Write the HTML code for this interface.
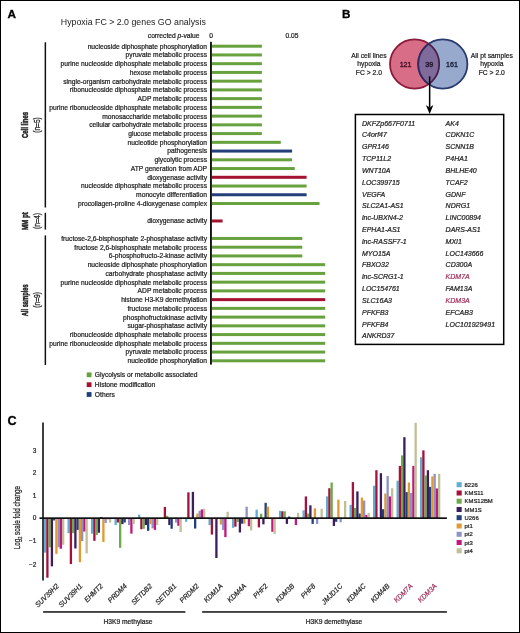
<!DOCTYPE html>
<html><head><meta charset="utf-8"><style>
html,body{margin:0;padding:0;background:#fff;}
body{width:520px;height:633px;overflow:hidden;position:relative;}
svg{position:absolute;left:0;top:0;font-family:"Liberation Sans", sans-serif;filter:blur(0.35px);}
.frame{position:absolute;left:0;top:0;width:520px;height:633px;box-sizing:border-box;border-style:solid;border-color:#000;border-width:1.2px 1.6px 1.6px 1.6px;}
</style></head><body>
<svg width="520" height="633" viewBox="0 0 520 633">
<text x="7.5" y="18.45" font-size="11.6" text-anchor="start" fill="#000" class="pl" font-weight="bold" stroke="#000" stroke-width="0.3" textLength="8.5" lengthAdjust="spacingAndGlyphs">A</text>
<text x="60.8" y="24.5" font-size="9.3" text-anchor="start" fill="#222"  textLength="145" lengthAdjust="spacingAndGlyphs">Hypoxia FC &gt; 2.0 genes GO analysis</text>
<text x="199.5" y="37.8" font-size="6.7" text-anchor="end" fill="#222" stroke="#222" stroke-width="0.22" >corrected <tspan font-style="italic">p</tspan>-value</text>
<text x="211" y="37.8" font-size="6.7" text-anchor="middle" fill="#222" stroke="#222" stroke-width="0.22" >0</text>
<text x="292" y="37.8" font-size="6.7" text-anchor="middle" fill="#222" stroke="#222" stroke-width="0.22" >0.05</text>
<text x="207" y="48.6" font-size="6.7" text-anchor="end" fill="#222" stroke="#222" stroke-width="0.22" class="al">nucleoside diphosphate phosphorylation</text>
<rect x="212" y="44.70" width="49.9" height="3.0" fill="#67a23f"/>
<text x="207" y="57.34" font-size="6.7" text-anchor="end" fill="#222" stroke="#222" stroke-width="0.22" class="al">pyruvate metabolic process</text>
<rect x="212" y="53.44" width="49.9" height="3.0" fill="#67a23f"/>
<text x="207" y="66.08" font-size="6.7" text-anchor="end" fill="#222" stroke="#222" stroke-width="0.22" class="al">purine nucleoside diphosphate metabolic process</text>
<rect x="212" y="62.18" width="49.9" height="3.0" fill="#67a23f"/>
<text x="207" y="74.82" font-size="6.7" text-anchor="end" fill="#222" stroke="#222" stroke-width="0.22" class="al">hexose metabolic process</text>
<rect x="212" y="70.92" width="49.9" height="3.0" fill="#67a23f"/>
<text x="207" y="83.56" font-size="6.7" text-anchor="end" fill="#222" stroke="#222" stroke-width="0.22" class="al">single-organism carbohydrate metabolic process</text>
<rect x="212" y="79.66" width="49.9" height="3.0" fill="#67a23f"/>
<text x="207" y="92.3" font-size="6.7" text-anchor="end" fill="#222" stroke="#222" stroke-width="0.22" class="al">ribonucleoside diphosphate metabolic process</text>
<rect x="212" y="88.40" width="49.9" height="3.0" fill="#67a23f"/>
<text x="207" y="101.03" font-size="6.7" text-anchor="end" fill="#222" stroke="#222" stroke-width="0.22" class="al">ADP metabolic process</text>
<rect x="212" y="97.13" width="49.9" height="3.0" fill="#67a23f"/>
<text x="207" y="109.77" font-size="6.7" text-anchor="end" fill="#222" stroke="#222" stroke-width="0.22" class="al">purine ribonucleoside diphosphate metabolic process</text>
<rect x="212" y="105.87" width="49.9" height="3.0" fill="#67a23f"/>
<text x="207" y="118.51" font-size="6.7" text-anchor="end" fill="#222" stroke="#222" stroke-width="0.22" class="al">monosaccharide metabolic process</text>
<rect x="212" y="114.61" width="49.9" height="3.0" fill="#67a23f"/>
<text x="207" y="127.25" font-size="6.7" text-anchor="end" fill="#222" stroke="#222" stroke-width="0.22" class="al">cellular carbohydrate metabolic process</text>
<rect x="212" y="123.35" width="49.9" height="3.0" fill="#67a23f"/>
<text x="207" y="135.99" font-size="6.7" text-anchor="end" fill="#222" stroke="#222" stroke-width="0.22" class="al">glucose metabolic process</text>
<rect x="212" y="132.09" width="49.9" height="3.0" fill="#67a23f"/>
<text x="207" y="144.73" font-size="6.7" text-anchor="end" fill="#222" stroke="#222" stroke-width="0.22" class="al">nucleotide phosphorylation</text>
<rect x="212" y="140.83" width="68.8" height="3.0" fill="#67a23f"/>
<text x="207" y="153.47" font-size="6.7" text-anchor="end" fill="#222" stroke="#222" stroke-width="0.22" class="al">pathogenesis</text>
<rect x="212" y="149.57" width="80.1" height="3.0" fill="#223f7a"/>
<text x="207" y="162.21" font-size="6.7" text-anchor="end" fill="#222" stroke="#222" stroke-width="0.22" class="al">glycolytic process</text>
<rect x="212" y="158.31" width="80.0" height="3.0" fill="#67a23f"/>
<text x="207" y="170.95" font-size="6.7" text-anchor="end" fill="#222" stroke="#222" stroke-width="0.22" class="al">ATP generation from ADP</text>
<rect x="212" y="167.05" width="82.8" height="3.0" fill="#67a23f"/>
<text x="207" y="179.69" font-size="6.7" text-anchor="end" fill="#222" stroke="#222" stroke-width="0.22" class="al">dioxygenase activity</text>
<rect x="212" y="175.79" width="94.6" height="3.0" fill="#a3122f"/>
<text x="207" y="188.42" font-size="6.7" text-anchor="end" fill="#222" stroke="#222" stroke-width="0.22" class="al">nucleoside diphosphate metabolic process</text>
<rect x="212" y="184.52" width="94.6" height="3.0" fill="#67a23f"/>
<text x="207" y="197.16" font-size="6.7" text-anchor="end" fill="#222" stroke="#222" stroke-width="0.22" class="al">monocyte differentiation</text>
<rect x="212" y="193.26" width="94.6" height="3.0" fill="#223f7a"/>
<text x="207" y="205.9" font-size="6.7" text-anchor="end" fill="#222" stroke="#222" stroke-width="0.22" class="al">procollagen-proline 4-dioxygenase complex</text>
<rect x="212" y="202.00" width="107.5" height="3.0" fill="#67a23f"/>
<text x="207" y="223.38" font-size="6.7" text-anchor="end" fill="#222" stroke="#222" stroke-width="0.22" class="al">dioxygenase activity</text>
<rect x="212" y="219.48" width="10.6" height="3.0" fill="#a3122f"/>
<text x="207" y="240.86" font-size="6.7" text-anchor="end" fill="#222" stroke="#222" stroke-width="0.22" class="al">fructose-2,6-bisphosphate 2-phosphatase activity</text>
<rect x="212" y="236.96" width="90.3" height="3.0" fill="#67a23f"/>
<text x="207" y="249.6" font-size="6.7" text-anchor="end" fill="#222" stroke="#222" stroke-width="0.22" class="al">fructose 2,6-bisphosphate metabolic process</text>
<rect x="212" y="245.70" width="90.3" height="3.0" fill="#67a23f"/>
<text x="207" y="258.34" font-size="6.7" text-anchor="end" fill="#222" stroke="#222" stroke-width="0.22" class="al">6-phosphofructo-2-kinase activity</text>
<rect x="212" y="254.44" width="90.3" height="3.0" fill="#67a23f"/>
<text x="207" y="267.07" font-size="6.7" text-anchor="end" fill="#222" stroke="#222" stroke-width="0.22" class="al">nucleoside diphosphate phosphorylation</text>
<rect x="212" y="263.18" width="113.2" height="3.0" fill="#67a23f"/>
<text x="207" y="275.81" font-size="6.7" text-anchor="end" fill="#222" stroke="#222" stroke-width="0.22" class="al">carbohydrate phosphatase activity</text>
<rect x="212" y="271.91" width="113.2" height="3.0" fill="#67a23f"/>
<text x="207" y="284.55" font-size="6.7" text-anchor="end" fill="#222" stroke="#222" stroke-width="0.22" class="al">purine nucleoside diphosphate metabolic process</text>
<rect x="212" y="280.65" width="113.2" height="3.0" fill="#67a23f"/>
<text x="207" y="293.29" font-size="6.7" text-anchor="end" fill="#222" stroke="#222" stroke-width="0.22" class="al">ADP metabolic process</text>
<rect x="212" y="289.39" width="113.2" height="3.0" fill="#67a23f"/>
<text x="207" y="302.03" font-size="6.7" text-anchor="end" fill="#222" stroke="#222" stroke-width="0.22" class="al">histone H3-K9 demethylation</text>
<rect x="212" y="298.13" width="113.2" height="3.0" fill="#a3122f"/>
<text x="207" y="310.77" font-size="6.7" text-anchor="end" fill="#222" stroke="#222" stroke-width="0.22" class="al">fructose metabolic process</text>
<rect x="212" y="306.87" width="113.2" height="3.0" fill="#67a23f"/>
<text x="207" y="319.51" font-size="6.7" text-anchor="end" fill="#222" stroke="#222" stroke-width="0.22" class="al">phosphofructokinase activity</text>
<rect x="212" y="315.61" width="113.2" height="3.0" fill="#67a23f"/>
<text x="207" y="328.25" font-size="6.7" text-anchor="end" fill="#222" stroke="#222" stroke-width="0.22" class="al">sugar-phosphatase activity</text>
<rect x="212" y="324.35" width="113.2" height="3.0" fill="#67a23f"/>
<text x="207" y="336.99" font-size="6.7" text-anchor="end" fill="#222" stroke="#222" stroke-width="0.22" class="al">ribonucleoside diphosphate metabolic process</text>
<rect x="212" y="333.09" width="113.2" height="3.0" fill="#67a23f"/>
<text x="207" y="345.73" font-size="6.7" text-anchor="end" fill="#222" stroke="#222" stroke-width="0.22" class="al">purine ribonucleoside diphosphate metabolic process</text>
<rect x="212" y="341.83" width="113.2" height="3.0" fill="#67a23f"/>
<text x="207" y="354.46" font-size="6.7" text-anchor="end" fill="#222" stroke="#222" stroke-width="0.22" class="al">pyruvate metabolic process</text>
<rect x="212" y="350.56" width="113.2" height="3.0" fill="#67a23f"/>
<text x="207" y="363.2" font-size="6.7" text-anchor="end" fill="#222" stroke="#222" stroke-width="0.22" class="al">nucleotide phosphorylation</text>
<rect x="212" y="359.30" width="113.2" height="3.0" fill="#67a23f"/>
<rect x="210" y="41.8" width="1.9" height="322.8" fill="#111"/>
<rect x="44.6" y="42.3" width="1.5" height="165.2" fill="#111"/>
<rect x="44.6" y="212.8" width="1.5" height="16.8" fill="#111"/>
<rect x="44.6" y="235.4" width="1.5" height="129.6" fill="#111"/>
<text class="rl" x="0" y="0" font-size="8.6" text-anchor="middle" fill="#222" font-weight="bold" stroke="#222" stroke-width="0.45" textLength="26" lengthAdjust="spacingAndGlyphs" transform="translate(28.3,125) rotate(-90)">Cell lines</text>
<text class="rl" x="0" y="0" font-size="9.2" text-anchor="middle" fill="#222" stroke="#222" stroke-width="0.3" textLength="15.4" lengthAdjust="spacingAndGlyphs" transform="translate(39.8,125) rotate(-90)">(n=5)</text>
<text class="rl" x="0" y="0" font-size="8.6" text-anchor="middle" fill="#222" font-weight="bold" stroke="#222" stroke-width="0.45" textLength="17.8" lengthAdjust="spacingAndGlyphs" transform="translate(28.3,221.2) rotate(-90)">MM pt</text>
<text class="rl" x="0" y="0" font-size="9.2" text-anchor="middle" fill="#222" stroke="#222" stroke-width="0.3" textLength="16.2" lengthAdjust="spacingAndGlyphs" transform="translate(39.8,221.0) rotate(-90)">(n=4)</text>
<text class="rl" x="0" y="0" font-size="8.6" text-anchor="middle" fill="#222" font-weight="bold" stroke="#222" stroke-width="0.45" textLength="32" lengthAdjust="spacingAndGlyphs" transform="translate(28.3,300.3) rotate(-90)">All samples</text>
<text class="rl" x="0" y="0" font-size="9.2" text-anchor="middle" fill="#222" stroke="#222" stroke-width="0.3" textLength="15.7" lengthAdjust="spacingAndGlyphs" transform="translate(39.8,299.9) rotate(-90)">(n=9)</text>
<rect x="86.7" y="372.4" width="4.8" height="4.8" fill="#67a23f"/>
<text x="94.8" y="377.3" font-size="6.72" text-anchor="start" fill="#222" stroke="#222" stroke-width="0.22" >Glycolysis or metabolic associated</text>
<rect x="86.7" y="382.3" width="4.8" height="4.8" fill="#a3122f"/>
<text x="94.8" y="387.2" font-size="6.72" text-anchor="start" fill="#222" stroke="#222" stroke-width="0.22" >Histone modification</text>
<rect x="86.7" y="392.1" width="4.8" height="4.8" fill="#223f7a"/>
<text x="94.8" y="397.0" font-size="6.72" text-anchor="start" fill="#222" stroke="#222" stroke-width="0.22" >Others</text>
<text x="342.1" y="18.05" font-size="11.7" text-anchor="start" fill="#000" class="pl" font-weight="bold" stroke="#000" stroke-width="0.3">B</text>
<g>
<circle cx="414.6" cy="64" r="24.6" fill="#d76d87" stroke="#8e1a3c" stroke-width="1.8"/>
<circle cx="442.8" cy="64" r="24.6" fill="#97a9cc" stroke="#2a3b70" stroke-width="1.8"/>
<clipPath id="cl"><circle cx="414.6" cy="64" r="24.6"/></clipPath>
<circle cx="442.8" cy="64" r="24.6" fill="#7f6a9c" stroke="#33285e" stroke-width="1.8" clip-path="url(#cl)"/>
<circle cx="414.6" cy="64" r="24.6" fill="none" stroke="#4a2048" stroke-width="1.8" clip-path="url(#cr)"/>
<clipPath id="cr"><circle cx="442.8" cy="64" r="24.6"/></clipPath>
</g>
<text x="405.6" y="66.6" font-size="7.1" text-anchor="middle" fill="#4a1426"  stroke="#4a1426" stroke-width="0.4">121</text>
<text x="429.2" y="66.6" font-size="7.1" text-anchor="middle" fill="#24162e"  stroke="#24162e" stroke-width="0.45">39</text>
<text x="452" y="66.6" font-size="7.1" text-anchor="middle" fill="#232a44"  stroke="#232a44" stroke-width="0.4">161</text>
<text x="368.9" y="57.5" font-size="6.75" text-anchor="middle" fill="#222" stroke="#222" stroke-width="0.22" >All cell lines</text>
<text x="368.9" y="66.1" font-size="6.75" text-anchor="middle" fill="#222" stroke="#222" stroke-width="0.22" >hypoxia</text>
<text x="368.9" y="74.7" font-size="6.75" text-anchor="middle" fill="#222" stroke="#222" stroke-width="0.22" >FC &gt; 2.0</text>
<text x="491.8" y="57.5" font-size="6.75" text-anchor="middle" fill="#222" stroke="#222" stroke-width="0.22" >All pt samples</text>
<text x="491.8" y="66.1" font-size="6.75" text-anchor="middle" fill="#222" stroke="#222" stroke-width="0.22" >hypoxia</text>
<text x="491.8" y="74.7" font-size="6.75" text-anchor="middle" fill="#222" stroke="#222" stroke-width="0.22" >FC &gt; 2.0</text>
<rect x="428.9" y="76.3" width="1.5" height="31" fill="#000"/>
<path d="M425.9 105 L429.65 114 L433.4 105 L429.65 107.5 Z" fill="#000"/>
<rect x="355.4" y="114.5" width="148.3" height="229.9" fill="none" stroke="#000" stroke-width="1.5"/>
<text x="362" y="125.6" font-size="7" text-anchor="start" fill="#222" stroke="#222" stroke-width="0.22" font-style="italic">DKFZp667F0711</text>
<text x="362" y="137.42" font-size="7" text-anchor="start" fill="#222" stroke="#222" stroke-width="0.22" font-style="italic">C4orf47</text>
<text x="362" y="149.24" font-size="7" text-anchor="start" fill="#222" stroke="#222" stroke-width="0.22" font-style="italic">GPR146</text>
<text x="362" y="161.06" font-size="7" text-anchor="start" fill="#222" stroke="#222" stroke-width="0.22" font-style="italic">TCP11L2</text>
<text x="362" y="172.88" font-size="7" text-anchor="start" fill="#222" stroke="#222" stroke-width="0.22" font-style="italic">WNT10A</text>
<text x="362" y="184.7" font-size="7" text-anchor="start" fill="#222" stroke="#222" stroke-width="0.22" font-style="italic">LOC399715</text>
<text x="362" y="196.52" font-size="7" text-anchor="start" fill="#222" stroke="#222" stroke-width="0.22" font-style="italic">VEGFA</text>
<text x="362" y="208.34" font-size="7" text-anchor="start" fill="#222" stroke="#222" stroke-width="0.22" font-style="italic">SLC2A1-AS1</text>
<text x="362" y="220.16" font-size="7" text-anchor="start" fill="#222" stroke="#222" stroke-width="0.22" font-style="italic">lnc-UBXN4-2</text>
<text x="362" y="231.98" font-size="7" text-anchor="start" fill="#222" stroke="#222" stroke-width="0.22" font-style="italic">EPHA1-AS1</text>
<text x="362" y="243.8" font-size="7" text-anchor="start" fill="#222" stroke="#222" stroke-width="0.22" font-style="italic">lnc-RASSF7-1</text>
<text x="362" y="255.62" font-size="7" text-anchor="start" fill="#222" stroke="#222" stroke-width="0.22" font-style="italic">MYO15A</text>
<text x="362" y="267.44" font-size="7" text-anchor="start" fill="#222" stroke="#222" stroke-width="0.22" font-style="italic">FBXO32</text>
<text x="362" y="279.26" font-size="7" text-anchor="start" fill="#222" stroke="#222" stroke-width="0.22" font-style="italic">lnc-SCRG1-1</text>
<text x="362" y="291.08" font-size="7" text-anchor="start" fill="#222" stroke="#222" stroke-width="0.22" font-style="italic">LOC154761</text>
<text x="362" y="302.9" font-size="7" text-anchor="start" fill="#222" stroke="#222" stroke-width="0.22" font-style="italic">SLC16A3</text>
<text x="362" y="314.72" font-size="7" text-anchor="start" fill="#222" stroke="#222" stroke-width="0.22" font-style="italic">PFKFB3</text>
<text x="362" y="326.54" font-size="7" text-anchor="start" fill="#222" stroke="#222" stroke-width="0.22" font-style="italic">PFKFB4</text>
<text x="362" y="338.36" font-size="7" text-anchor="start" fill="#222" stroke="#222" stroke-width="0.22" font-style="italic">ANKRD37</text>
<text x="445.6" y="125.6" font-size="7" text-anchor="start" fill="#222" stroke="#222" stroke-width="0.22" font-style="italic">AK4</text>
<text x="445.6" y="137.42" font-size="7" text-anchor="start" fill="#222" stroke="#222" stroke-width="0.22" font-style="italic">CDKN1C</text>
<text x="445.6" y="149.24" font-size="7" text-anchor="start" fill="#222" stroke="#222" stroke-width="0.22" font-style="italic">SCNN1B</text>
<text x="445.6" y="161.06" font-size="7" text-anchor="start" fill="#222" stroke="#222" stroke-width="0.22" font-style="italic">P4HA1</text>
<text x="445.6" y="172.88" font-size="7" text-anchor="start" fill="#222" stroke="#222" stroke-width="0.22" font-style="italic">BHLHE40</text>
<text x="445.6" y="184.7" font-size="7" text-anchor="start" fill="#222" stroke="#222" stroke-width="0.22" font-style="italic">TCAF2</text>
<text x="445.6" y="196.52" font-size="7" text-anchor="start" fill="#222" stroke="#222" stroke-width="0.22" font-style="italic">GDNF</text>
<text x="445.6" y="208.34" font-size="7" text-anchor="start" fill="#222" stroke="#222" stroke-width="0.22" font-style="italic">NDRG1</text>
<text x="445.6" y="220.16" font-size="7" text-anchor="start" fill="#222" stroke="#222" stroke-width="0.22" font-style="italic">LINC00894</text>
<text x="445.6" y="231.98" font-size="7" text-anchor="start" fill="#222" stroke="#222" stroke-width="0.22" font-style="italic">DARS-AS1</text>
<text x="445.6" y="243.8" font-size="7" text-anchor="start" fill="#222" stroke="#222" stroke-width="0.22" font-style="italic">MXI1</text>
<text x="445.6" y="255.62" font-size="7" text-anchor="start" fill="#222" stroke="#222" stroke-width="0.22" font-style="italic">LOC143666</text>
<text x="445.6" y="267.44" font-size="7" text-anchor="start" fill="#222" stroke="#222" stroke-width="0.22" font-style="italic">CD300A</text>
<text x="445.6" y="279.26" font-size="7" text-anchor="start" fill="#a0305a" stroke="#a0305a" stroke-width="0.22" font-style="italic">KDM7A</text>
<text x="445.6" y="291.08" font-size="7" text-anchor="start" fill="#222" stroke="#222" stroke-width="0.22" font-style="italic">FAM13A</text>
<text x="445.6" y="302.9" font-size="7" text-anchor="start" fill="#a0305a" stroke="#a0305a" stroke-width="0.22" font-style="italic">KDM3A</text>
<text x="445.6" y="314.72" font-size="7" text-anchor="start" fill="#222" stroke="#222" stroke-width="0.22" font-style="italic">EFCAB3</text>
<text x="445.6" y="326.54" font-size="7" text-anchor="start" fill="#222" stroke="#222" stroke-width="0.22" font-style="italic">LOC101929491</text>
<text x="7.4" y="425.3" font-size="12.6" text-anchor="start" fill="#000" class="pl" font-weight="bold" stroke="#000" stroke-width="0.3">C</text>
<rect x="44.00" y="518.10" width="2.30" height="34.57" fill="#5fadd0"/>
<rect x="46.25" y="518.10" width="2.30" height="59.62" fill="#a3123a"/>
<rect x="48.50" y="518.10" width="2.30" height="29.23" fill="#6eaa4c"/>
<rect x="50.75" y="518.10" width="2.30" height="48.26" fill="#3b1e5c"/>
<rect x="53.00" y="518.10" width="2.30" height="2.32" fill="#223f7e"/>
<rect x="55.25" y="518.10" width="2.30" height="35.73" fill="#e09a30"/>
<rect x="57.50" y="518.10" width="2.30" height="29.23" fill="#8e92c6"/>
<rect x="59.75" y="518.10" width="2.30" height="30.62" fill="#c0187c"/>
<rect x="62.00" y="518.10" width="2.30" height="26.68" fill="#c2bf98"/>
<text class="gl" x="0" y="0" font-size="7.3" font-style="italic" text-anchor="end" fill="#222" stroke="#222" stroke-width="0.2" textLength="30.02" lengthAdjust="spacingAndGlyphs" transform="translate(59.3,586.6) rotate(-45)">SUV39H2</text>
<rect x="67.50" y="518.10" width="2.30" height="15.08" fill="#5fadd0"/>
<rect x="69.75" y="518.10" width="2.30" height="45.94" fill="#a3123a"/>
<rect x="72.00" y="518.10" width="2.30" height="15.08" fill="#6eaa4c"/>
<rect x="74.25" y="518.10" width="2.30" height="30.39" fill="#3b1e5c"/>
<rect x="76.50" y="518.10" width="2.30" height="11.83" fill="#223f7e"/>
<rect x="78.75" y="518.10" width="2.30" height="44.08" fill="#e09a30"/>
<rect x="81.00" y="518.10" width="2.30" height="22.97" fill="#8e92c6"/>
<rect x="83.25" y="518.10" width="2.30" height="13.46" fill="#c0187c"/>
<rect x="85.50" y="518.10" width="2.30" height="35.26" fill="#c2bf98"/>
<text class="gl" x="0" y="0" font-size="7.3" font-style="italic" text-anchor="end" fill="#222" stroke="#222" stroke-width="0.2" textLength="30.02" lengthAdjust="spacingAndGlyphs" transform="translate(82.8,586.6) rotate(-45)">SUV39H1</text>
<rect x="91.00" y="518.10" width="2.30" height="15.54" fill="#5fadd0"/>
<rect x="93.25" y="518.10" width="2.30" height="22.74" fill="#a3123a"/>
<rect x="95.50" y="518.10" width="2.30" height="16.94" fill="#6eaa4c"/>
<rect x="97.75" y="518.10" width="2.30" height="14.62" fill="#3b1e5c"/>
<rect x="100.00" y="516.96" width="2.30" height="1.14" fill="#223f7e"/>
<rect x="102.25" y="518.10" width="2.30" height="23.90" fill="#e09a30"/>
<rect x="104.50" y="518.10" width="2.30" height="4.87" fill="#8e92c6"/>
<rect x="106.75" y="518.10" width="2.30" height="1.16" fill="#c0187c"/>
<rect x="109.00" y="518.10" width="2.30" height="4.41" fill="#c2bf98"/>
<text class="gl" x="0" y="0" font-size="7.3" font-style="italic" text-anchor="end" fill="#222" stroke="#222" stroke-width="0.2" textLength="22.88" lengthAdjust="spacingAndGlyphs" transform="translate(103.4,586.6) rotate(-45)">EHMT2</text>
<rect x="114.50" y="518.10" width="2.30" height="6.96" fill="#5fadd0"/>
<rect x="116.75" y="518.10" width="2.30" height="4.41" fill="#a3123a"/>
<rect x="119.00" y="518.10" width="2.30" height="29.70" fill="#6eaa4c"/>
<rect x="121.25" y="518.10" width="2.30" height="6.03" fill="#3b1e5c"/>
<rect x="123.50" y="518.10" width="2.30" height="4.41" fill="#223f7e"/>
<rect x="125.75" y="518.10" width="2.30" height="1.16" fill="#e09a30"/>
<rect x="128.00" y="518.10" width="2.30" height="6.96" fill="#8e92c6"/>
<rect x="130.25" y="518.10" width="2.30" height="15.54" fill="#c0187c"/>
<rect x="132.50" y="518.10" width="2.30" height="6.03" fill="#c2bf98"/>
<text class="gl" x="0" y="0" font-size="7.3" font-style="italic" text-anchor="end" fill="#222" stroke="#222" stroke-width="0.2" textLength="23.63" lengthAdjust="spacingAndGlyphs" transform="translate(127.4,586.6) rotate(-45)">PRDM4</text>
<rect x="138.00" y="514.68" width="2.30" height="3.42" fill="#5fadd0"/>
<rect x="140.25" y="518.10" width="2.30" height="11.14" fill="#a3123a"/>
<rect x="142.50" y="518.10" width="2.30" height="10.67" fill="#6eaa4c"/>
<rect x="144.75" y="518.10" width="2.30" height="6.96" fill="#3b1e5c"/>
<rect x="147.00" y="518.10" width="2.30" height="12.76" fill="#223f7e"/>
<rect x="149.25" y="518.10" width="2.30" height="6.03" fill="#e09a30"/>
<rect x="151.50" y="518.10" width="2.30" height="10.21" fill="#8e92c6"/>
<rect x="153.75" y="518.10" width="2.30" height="11.83" fill="#c0187c"/>
<rect x="156.00" y="518.10" width="2.30" height="6.96" fill="#c2bf98"/>
<text class="gl" x="0" y="0" font-size="7.3" font-style="italic" text-anchor="end" fill="#222" stroke="#222" stroke-width="0.2" textLength="26.26" lengthAdjust="spacingAndGlyphs" transform="translate(152.7,586.6) rotate(-45)">SETDB2</text>
<rect x="161.50" y="518.10" width="2.30" height="0.70" fill="#5fadd0"/>
<rect x="163.75" y="506.93" width="2.30" height="11.17" fill="#a3123a"/>
<rect x="166.00" y="515.82" width="2.30" height="2.28" fill="#6eaa4c"/>
<rect x="168.25" y="518.10" width="2.30" height="6.96" fill="#3b1e5c"/>
<rect x="170.50" y="518.10" width="2.30" height="10.67" fill="#223f7e"/>
<rect x="172.75" y="518.10" width="2.30" height="0.70" fill="#e09a30"/>
<rect x="175.00" y="518.10" width="2.30" height="4.41" fill="#8e92c6"/>
<rect x="177.25" y="518.10" width="2.30" height="7.66" fill="#c0187c"/>
<rect x="179.50" y="518.10" width="2.30" height="13.92" fill="#c2bf98"/>
<text class="gl" x="0" y="0" font-size="7.3" font-style="italic" text-anchor="end" fill="#222" stroke="#222" stroke-width="0.2" textLength="26.26" lengthAdjust="spacingAndGlyphs" transform="translate(176.8,586.6) rotate(-45)">SETDB1</text>
<rect x="185.00" y="518.10" width="2.30" height="3.71" fill="#5fadd0"/>
<rect x="187.25" y="492.34" width="2.30" height="25.76" fill="#a3123a"/>
<rect x="189.50" y="518.10" width="2.30" height="1.16" fill="#6eaa4c"/>
<rect x="191.75" y="491.88" width="2.30" height="26.22" fill="#3b1e5c"/>
<rect x="194.00" y="518.10" width="2.30" height="10.44" fill="#223f7e"/>
<rect x="196.25" y="513.54" width="2.30" height="4.56" fill="#e09a30"/>
<rect x="198.50" y="510.80" width="2.30" height="7.30" fill="#8e92c6"/>
<rect x="200.75" y="509.44" width="2.30" height="8.66" fill="#c0187c"/>
<rect x="203.00" y="508.75" width="2.30" height="9.35" fill="#c2bf98"/>
<text class="gl" x="0" y="0" font-size="7.3" font-style="italic" text-anchor="end" fill="#222" stroke="#222" stroke-width="0.2" textLength="23.63" lengthAdjust="spacingAndGlyphs" transform="translate(199.3,586.6) rotate(-45)">PRDM2</text>
<rect x="208.50" y="518.10" width="2.30" height="6.96" fill="#5fadd0"/>
<rect x="210.75" y="518.10" width="2.30" height="16.47" fill="#a3123a"/>
<rect x="213.00" y="518.10" width="2.30" height="0.70" fill="#6eaa4c"/>
<rect x="215.25" y="518.10" width="2.30" height="39.90" fill="#3b1e5c"/>
<rect x="217.50" y="518.10" width="2.30" height="0.70" fill="#223f7e"/>
<rect x="219.75" y="518.10" width="2.30" height="6.50" fill="#e09a30"/>
<rect x="222.00" y="518.10" width="2.30" height="11.83" fill="#8e92c6"/>
<rect x="224.25" y="518.10" width="2.30" height="19.02" fill="#c0187c"/>
<rect x="226.50" y="511.72" width="2.30" height="6.38" fill="#c2bf98"/>
<text class="gl" x="0" y="0" font-size="7.3" font-style="italic" text-anchor="end" fill="#222" stroke="#222" stroke-width="0.2" textLength="23.26" lengthAdjust="spacingAndGlyphs" transform="translate(223.2,586.6) rotate(-45)">KDM1A</text>
<rect x="232.00" y="518.10" width="2.30" height="9.74" fill="#5fadd0"/>
<rect x="234.25" y="518.10" width="2.30" height="8.58" fill="#a3123a"/>
<rect x="236.50" y="518.10" width="2.30" height="3.94" fill="#6eaa4c"/>
<rect x="238.75" y="518.10" width="2.30" height="14.38" fill="#3b1e5c"/>
<rect x="241.00" y="518.10" width="2.30" height="5.57" fill="#223f7e"/>
<rect x="243.25" y="518.10" width="2.30" height="5.57" fill="#e09a30"/>
<rect x="245.50" y="506.70" width="2.30" height="11.40" fill="#8e92c6"/>
<rect x="247.75" y="518.10" width="2.30" height="8.12" fill="#c0187c"/>
<rect x="250.00" y="518.10" width="2.30" height="12.30" fill="#c2bf98"/>
<text class="gl" x="0" y="0" font-size="7.3" font-style="italic" text-anchor="end" fill="#222" stroke="#222" stroke-width="0.2" textLength="23.26" lengthAdjust="spacingAndGlyphs" transform="translate(246.7,586.6) rotate(-45)">KDM4A</text>
<rect x="255.50" y="509.66" width="2.30" height="8.44" fill="#5fadd0"/>
<rect x="257.75" y="518.10" width="2.30" height="9.28" fill="#a3123a"/>
<rect x="260.00" y="513.77" width="2.30" height="4.33" fill="#6eaa4c"/>
<rect x="262.25" y="518.10" width="2.30" height="6.26" fill="#3b1e5c"/>
<rect x="264.50" y="502.82" width="2.30" height="15.28" fill="#223f7e"/>
<rect x="266.75" y="506.70" width="2.30" height="11.40" fill="#e09a30"/>
<rect x="269.00" y="518.10" width="2.30" height="0.70" fill="#8e92c6"/>
<rect x="271.25" y="518.10" width="2.30" height="13.69" fill="#c0187c"/>
<rect x="273.50" y="518.10" width="2.30" height="15.78" fill="#c2bf98"/>
<text class="gl" x="0" y="0" font-size="7.3" font-style="italic" text-anchor="end" fill="#222" stroke="#222" stroke-width="0.2" textLength="17.25" lengthAdjust="spacingAndGlyphs" transform="translate(268.2,586.6) rotate(-45)">PHF2</text>
<rect x="279.00" y="510.80" width="2.30" height="7.30" fill="#5fadd0"/>
<rect x="281.25" y="511.26" width="2.30" height="6.84" fill="#a3123a"/>
<rect x="283.50" y="511.26" width="2.30" height="6.84" fill="#6eaa4c"/>
<rect x="285.75" y="518.10" width="2.30" height="5.80" fill="#3b1e5c"/>
<rect x="288.00" y="516.50" width="2.30" height="1.60" fill="#223f7e"/>
<rect x="290.25" y="518.10" width="2.30" height="0.70" fill="#e09a30"/>
<rect x="292.50" y="518.10" width="2.30" height="0.70" fill="#8e92c6"/>
<rect x="294.75" y="518.10" width="2.30" height="6.96" fill="#c0187c"/>
<rect x="297.00" y="512.86" width="2.30" height="5.24" fill="#c2bf98"/>
<text class="gl" x="0" y="0" font-size="7.3" font-style="italic" text-anchor="end" fill="#222" stroke="#222" stroke-width="0.2" textLength="23.26" lengthAdjust="spacingAndGlyphs" transform="translate(294.9,586.6) rotate(-45)">KDM3B</text>
<rect x="302.50" y="510.35" width="2.30" height="7.75" fill="#5fadd0"/>
<rect x="304.75" y="496.44" width="2.30" height="21.66" fill="#a3123a"/>
<rect x="307.00" y="513.54" width="2.30" height="4.56" fill="#6eaa4c"/>
<rect x="309.25" y="505.33" width="2.30" height="12.77" fill="#3b1e5c"/>
<rect x="311.50" y="518.10" width="2.30" height="5.80" fill="#223f7e"/>
<rect x="313.75" y="508.30" width="2.30" height="9.80" fill="#e09a30"/>
<rect x="316.00" y="518.10" width="2.30" height="5.80" fill="#8e92c6"/>
<rect x="318.25" y="518.10" width="2.30" height="0.70" fill="#c0187c"/>
<rect x="320.50" y="508.75" width="2.30" height="9.35" fill="#c2bf98"/>
<text class="gl" x="0" y="0" font-size="7.3" font-style="italic" text-anchor="end" fill="#222" stroke="#222" stroke-width="0.2" textLength="17.25" lengthAdjust="spacingAndGlyphs" transform="translate(316.0,586.6) rotate(-45)">PHF8</text>
<rect x="326.00" y="496.44" width="2.30" height="21.66" fill="#5fadd0"/>
<rect x="328.25" y="488.23" width="2.30" height="29.87" fill="#a3123a"/>
<rect x="330.50" y="482.53" width="2.30" height="35.57" fill="#6eaa4c"/>
<rect x="332.75" y="518.10" width="2.30" height="7.89" fill="#3b1e5c"/>
<rect x="335.00" y="518.10" width="2.30" height="3.71" fill="#223f7e"/>
<rect x="337.25" y="499.63" width="2.30" height="18.47" fill="#e09a30"/>
<rect x="339.50" y="518.10" width="2.30" height="4.18" fill="#8e92c6"/>
<rect x="341.75" y="518.10" width="2.30" height="0.70" fill="#c0187c"/>
<rect x="344.00" y="501.00" width="2.30" height="17.10" fill="#c2bf98"/>
<text class="gl" x="0" y="0" font-size="7.3" font-style="italic" text-anchor="end" fill="#222" stroke="#222" stroke-width="0.2" textLength="25.88" lengthAdjust="spacingAndGlyphs" transform="translate(342.9,586.6) rotate(-45)">JMJD1C</text>
<rect x="349.50" y="504.88" width="2.30" height="13.22" fill="#5fadd0"/>
<rect x="351.75" y="482.08" width="2.30" height="36.02" fill="#a3123a"/>
<rect x="354.00" y="507.84" width="2.30" height="10.26" fill="#6eaa4c"/>
<rect x="356.25" y="491.42" width="2.30" height="26.68" fill="#3b1e5c"/>
<rect x="358.50" y="513.54" width="2.30" height="4.56" fill="#223f7e"/>
<rect x="360.75" y="497.58" width="2.30" height="20.52" fill="#e09a30"/>
<rect x="363.00" y="500.54" width="2.30" height="17.56" fill="#8e92c6"/>
<rect x="365.25" y="514.91" width="2.30" height="3.19" fill="#c0187c"/>
<rect x="367.50" y="512.86" width="2.30" height="5.24" fill="#c2bf98"/>
<text class="gl" x="0" y="0" font-size="7.3" font-style="italic" text-anchor="end" fill="#222" stroke="#222" stroke-width="0.2" textLength="23.63" lengthAdjust="spacingAndGlyphs" transform="translate(366.1,586.6) rotate(-45)">KDM4C</text>
<rect x="373.00" y="485.72" width="2.30" height="32.38" fill="#5fadd0"/>
<rect x="375.25" y="470.22" width="2.30" height="47.88" fill="#a3123a"/>
<rect x="377.50" y="517.64" width="2.30" height="0.46" fill="#6eaa4c"/>
<rect x="379.75" y="473.18" width="2.30" height="44.92" fill="#3b1e5c"/>
<rect x="382.00" y="509.21" width="2.30" height="8.89" fill="#223f7e"/>
<rect x="384.25" y="493.48" width="2.30" height="24.62" fill="#e09a30"/>
<rect x="386.50" y="475.92" width="2.30" height="42.18" fill="#8e92c6"/>
<rect x="388.75" y="496.44" width="2.30" height="21.66" fill="#c0187c"/>
<rect x="391.00" y="488.23" width="2.30" height="29.87" fill="#c2bf98"/>
<text class="gl" x="0" y="0" font-size="7.3" font-style="italic" text-anchor="end" fill="#222" stroke="#222" stroke-width="0.2" textLength="23.26" lengthAdjust="spacingAndGlyphs" transform="translate(390.1,586.6) rotate(-45)">KDM4B</text>
<rect x="396.50" y="480.71" width="2.30" height="37.39" fill="#5fadd0"/>
<rect x="398.75" y="465.89" width="2.30" height="52.21" fill="#a3123a"/>
<rect x="401.00" y="455.40" width="2.30" height="62.70" fill="#6eaa4c"/>
<rect x="403.25" y="437.16" width="2.30" height="80.94" fill="#3b1e5c"/>
<rect x="405.50" y="492.11" width="2.30" height="25.99" fill="#223f7e"/>
<rect x="407.75" y="482.53" width="2.30" height="35.57" fill="#e09a30"/>
<rect x="410.00" y="493.02" width="2.30" height="25.08" fill="#8e92c6"/>
<rect x="412.25" y="465.89" width="2.30" height="52.21" fill="#c0187c"/>
<rect x="414.50" y="422.80" width="2.30" height="95.30" fill="#c2bf98"/>
<text class="gl" x="0" y="0" font-size="7.3" font-style="italic" text-anchor="end" fill="#a0305a" stroke="#a0305a" stroke-width="0.2" textLength="23.26" lengthAdjust="spacingAndGlyphs" transform="translate(413.2,586.6) rotate(-45)">KDM7A</text>
<rect x="420.00" y="457.22" width="2.30" height="60.88" fill="#5fadd0"/>
<rect x="422.25" y="450.38" width="2.30" height="67.72" fill="#a3123a"/>
<rect x="424.50" y="475.46" width="2.30" height="42.64" fill="#6eaa4c"/>
<rect x="426.75" y="470.22" width="2.30" height="47.88" fill="#3b1e5c"/>
<rect x="429.00" y="486.86" width="2.30" height="31.24" fill="#223f7e"/>
<rect x="431.25" y="476.38" width="2.30" height="41.72" fill="#e09a30"/>
<rect x="433.50" y="473.87" width="2.30" height="44.23" fill="#8e92c6"/>
<rect x="435.75" y="488.46" width="2.30" height="29.64" fill="#c0187c"/>
<rect x="438.00" y="473.87" width="2.30" height="44.23" fill="#c2bf98"/>
<text class="gl" x="0" y="0" font-size="7.3" font-style="italic" text-anchor="end" fill="#a0305a" stroke="#a0305a" stroke-width="0.2" textLength="23.26" lengthAdjust="spacingAndGlyphs" transform="translate(437.3,586.6) rotate(-45)">KDM3A</text>
<rect x="42.2" y="422.5" width="1.6" height="158" fill="#111"/>
<rect x="39.5" y="517.3" width="407.4" height="1.7" fill="#111"/>
<text x="36.3" y="452.7" font-size="6.5" text-anchor="end" fill="#222" stroke="#222" stroke-width="0.22" >3</text>
<text x="36.3" y="475.1" font-size="6.5" text-anchor="end" fill="#222" stroke="#222" stroke-width="0.22" >2</text>
<text x="36.3" y="497.7" font-size="6.5" text-anchor="end" fill="#222" stroke="#222" stroke-width="0.22" >1</text>
<text x="36.3" y="520.0" font-size="6.5" text-anchor="end" fill="#222" stroke="#222" stroke-width="0.22" >0</text>
<text x="36.3" y="543.2" font-size="6.5" text-anchor="end" fill="#222" stroke="#222" stroke-width="0.22" >&#8722;1</text>
<text x="36.3" y="566.6" font-size="6.5" text-anchor="end" fill="#222" stroke="#222" stroke-width="0.22" >&#8722;2</text>
<text x="0" y="0" class="yt" font-size="8.3" text-anchor="middle" fill="#222" stroke="#222" stroke-width="0.25" textLength="63.4" lengthAdjust="spacingAndGlyphs" transform="translate(19.9,517.6) rotate(-90)">Log<tspan font-size="5" dy="1.6">2</tspan><tspan dy="-1.6"> scale fold change</tspan></text>
<rect x="43.1" y="611.2" width="142.3" height="1.5" fill="#111"/>
<rect x="202.1" y="611.2" width="244.8" height="1.5" fill="#111"/>
<text x="128" y="623.5" font-size="6.7" text-anchor="middle" fill="#222" stroke="#222" stroke-width="0.22" >H3K9 methylase</text>
<text x="334" y="623.5" font-size="6.7" text-anchor="middle" fill="#222" stroke="#222" stroke-width="0.22" >H3K9 demethylase</text>
<rect x="456.6" y="482.2" width="5.1" height="5" fill="#5fadd0"/>
<text x="464.6" y="486.8" font-size="5.9" text-anchor="start" fill="#222" stroke="#222" stroke-width="0.22" >8226</text>
<rect x="456.6" y="490.5" width="5.1" height="5" fill="#a3123a"/>
<text x="464.6" y="495.1" font-size="5.9" text-anchor="start" fill="#222" stroke="#222" stroke-width="0.22" >KMS11</text>
<rect x="456.6" y="498.7" width="5.1" height="5" fill="#6eaa4c"/>
<text x="464.6" y="503.3" font-size="5.9" text-anchor="start" fill="#222" stroke="#222" stroke-width="0.22" >KMS12BM</text>
<rect x="456.6" y="507.0" width="5.1" height="5" fill="#3b1e5c"/>
<text x="464.6" y="511.6" font-size="5.9" text-anchor="start" fill="#222" stroke="#222" stroke-width="0.22" >MM1S</text>
<rect x="456.6" y="515.2" width="5.1" height="5" fill="#223f7e"/>
<text x="464.6" y="519.8" font-size="5.9" text-anchor="start" fill="#222" stroke="#222" stroke-width="0.22" >U266</text>
<rect x="456.6" y="523.5" width="5.1" height="5" fill="#e09a30"/>
<text x="464.6" y="528.1" font-size="5.9" text-anchor="start" fill="#222" stroke="#222" stroke-width="0.22" >pt1</text>
<rect x="456.6" y="531.8" width="5.1" height="5" fill="#8e92c6"/>
<text x="464.6" y="536.4" font-size="5.9" text-anchor="start" fill="#222" stroke="#222" stroke-width="0.22" >pt2</text>
<rect x="456.6" y="540.0" width="5.1" height="5" fill="#c0187c"/>
<text x="464.6" y="544.6" font-size="5.9" text-anchor="start" fill="#222" stroke="#222" stroke-width="0.22" >pt3</text>
<rect x="456.6" y="548.3" width="5.1" height="5" fill="#c2bf98"/>
<text x="464.6" y="552.9" font-size="5.9" text-anchor="start" fill="#222" stroke="#222" stroke-width="0.22" >pt4</text>
</svg>
<div class="frame"></div>
</body></html>
